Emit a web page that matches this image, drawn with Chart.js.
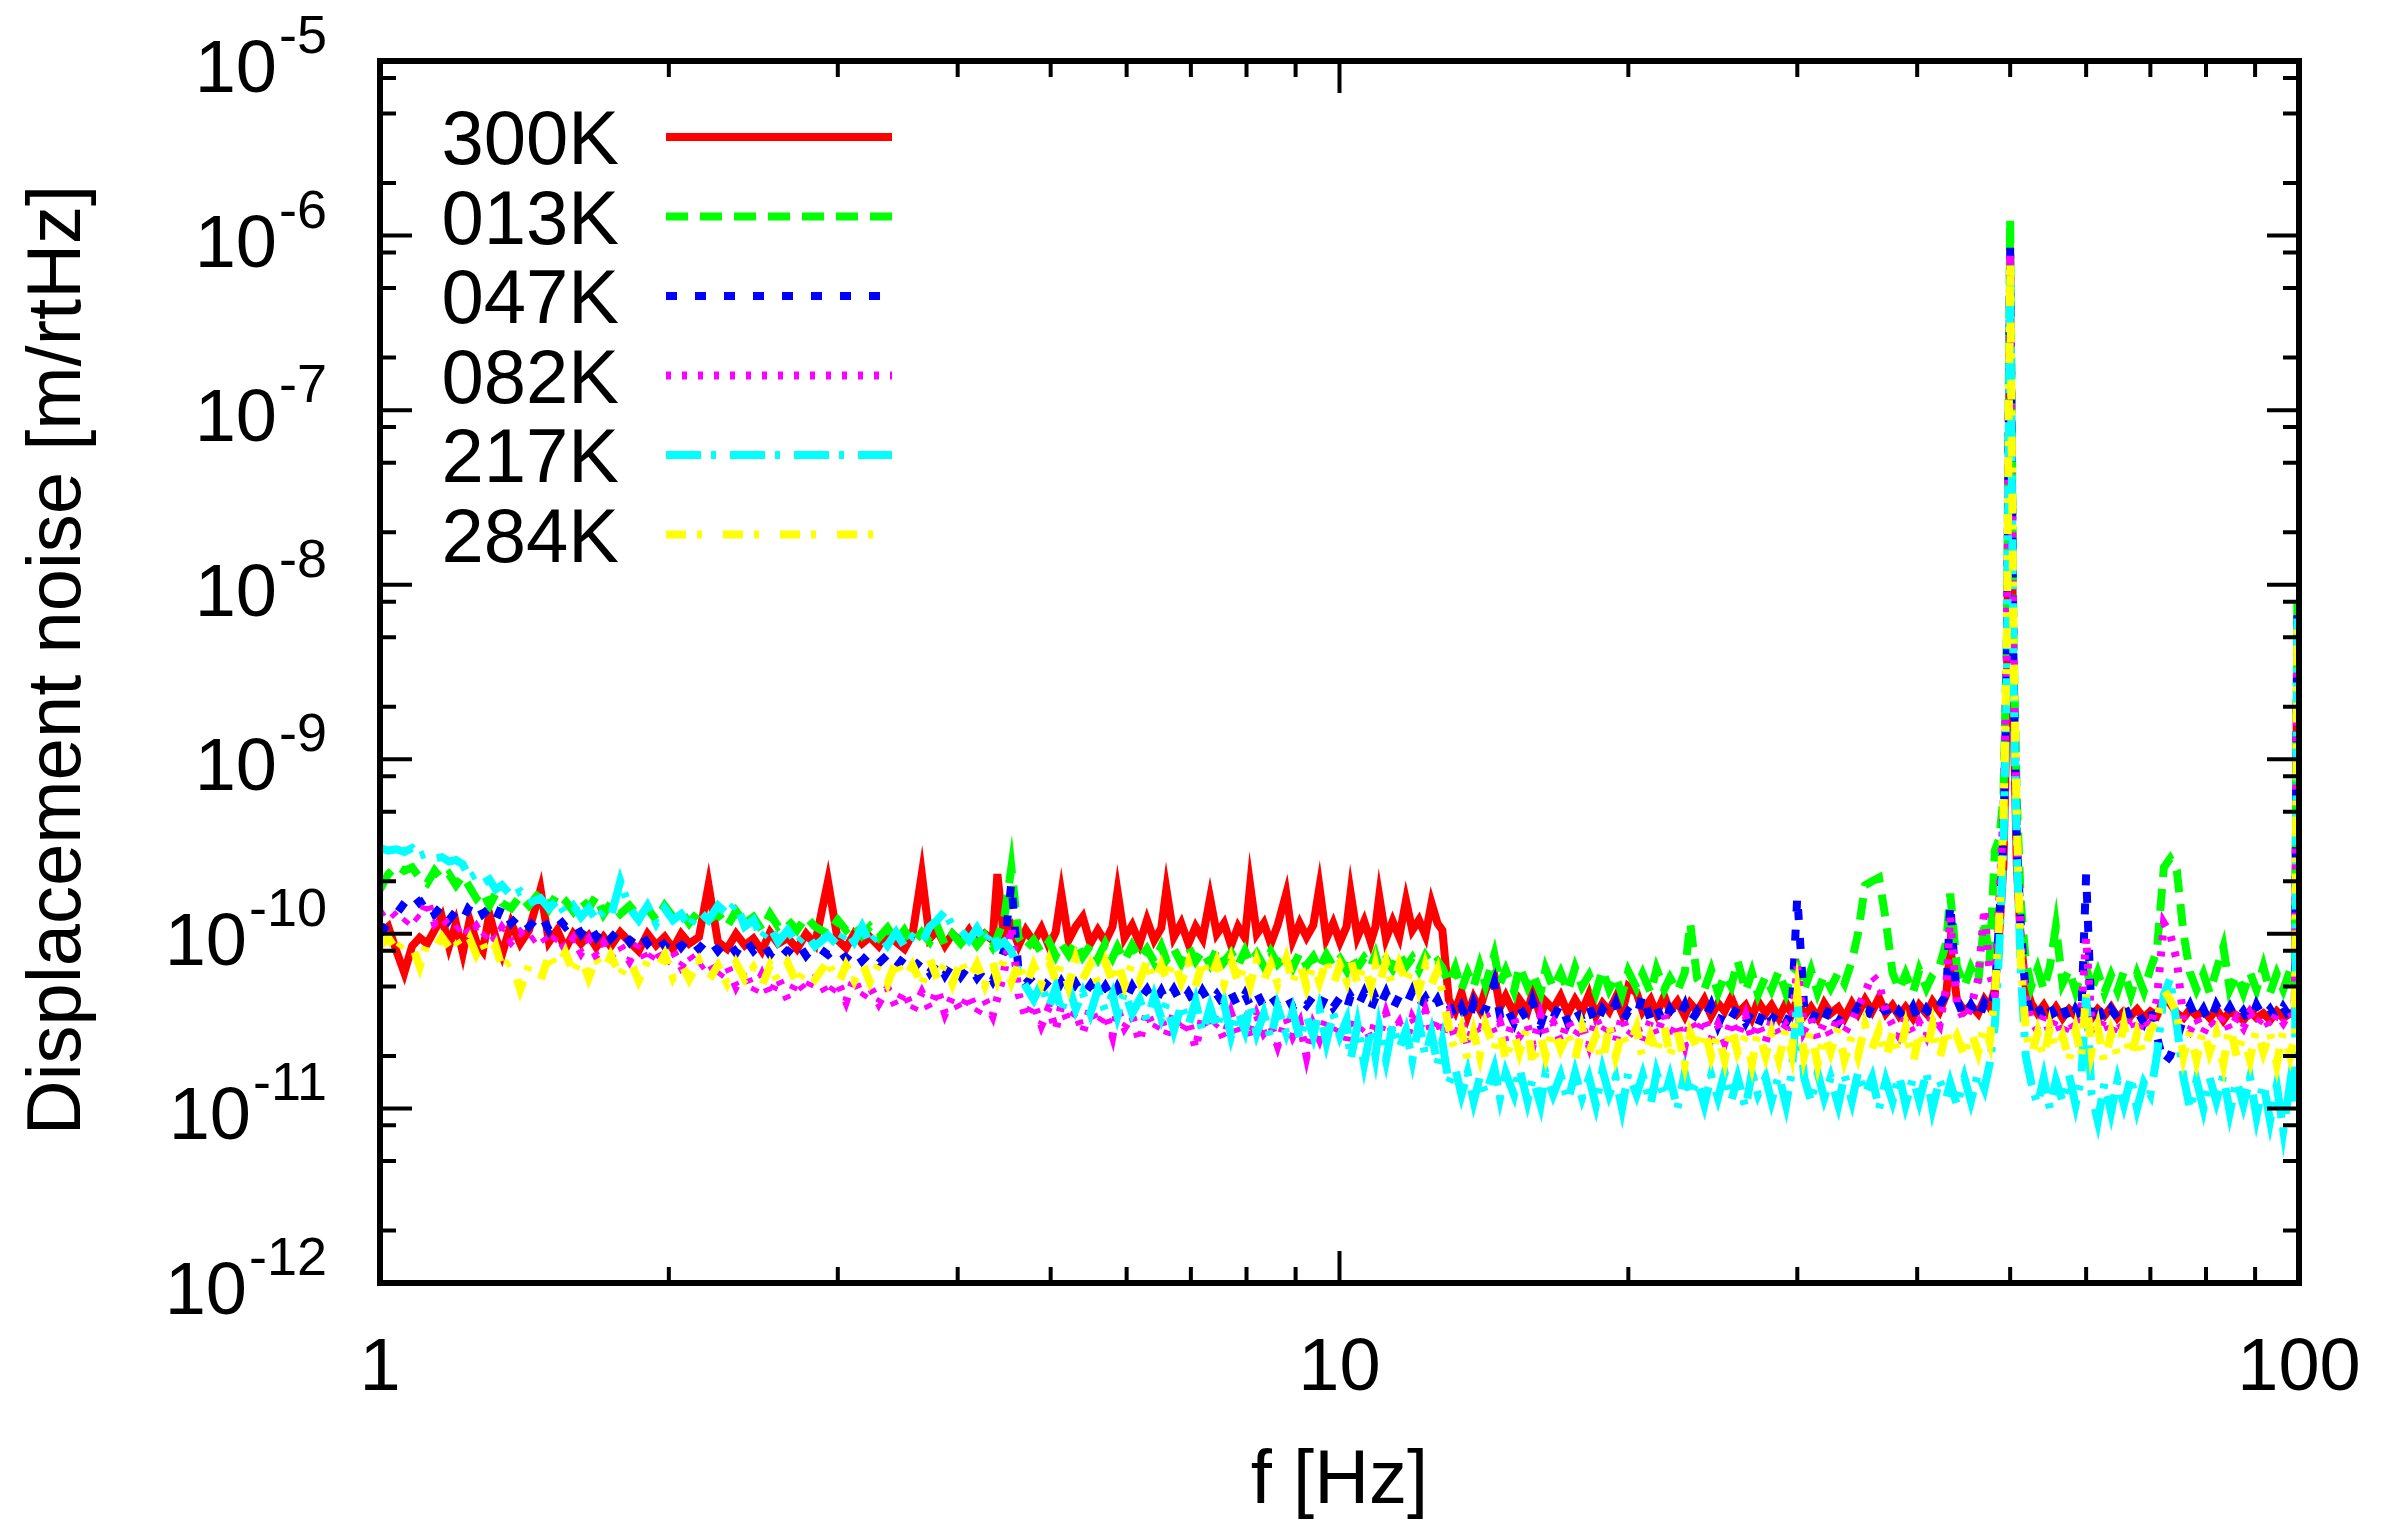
<!DOCTYPE html>
<html>
<head>
<meta charset="utf-8">
<title>Displacement noise</title>
<script src="https://cdn.jsdelivr.net/npm/chart.js@4.4.1/dist/chart.umd.min.js"></script>
<style>
  html, body { margin: 0; padding: 0; background: #fff; }
  canvas { display: block; }
</style>
</head>
<body>
<canvas id="noise" width="2400" height="1523"></canvas>
<script>
// frequency bins [Hz]
var freq = [
  1.00, 1.02, 1.04, 1.06, 1.08, 1.10, 1.12, 1.14, 1.16, 1.18,
  1.20, 1.22, 1.24, 1.26, 1.28, 1.30, 1.32, 1.34, 1.37, 1.40,
  1.43, 1.47, 1.50, 1.53, 1.56, 1.59, 1.62, 1.65, 1.68, 1.71,
  1.74, 1.78, 1.82, 1.86, 1.90, 1.94, 1.98, 2.02, 2.06, 2.10,
  2.15, 2.20, 2.25, 2.30, 2.35, 2.40, 2.45, 2.50, 2.55, 2.60,
  2.66, 2.72, 2.78, 2.84, 2.93, 3.00, 3.06, 3.12, 3.18, 3.24,
  3.31, 3.38, 3.45, 3.52, 3.59, 3.67, 3.74, 3.81, 3.88, 3.95,
  4.03, 4.11, 4.19, 4.27, 4.35, 4.40, 4.47, 4.55, 4.63, 4.71,
  4.80, 4.89, 4.98, 5.06, 5.13, 5.22, 5.31, 5.40, 5.50, 5.60,
  5.70, 5.80, 5.87, 5.97, 6.08, 6.19, 6.30, 6.41, 6.52, 6.60,
  6.72, 6.84, 6.96, 7.08, 7.20, 7.33, 7.45, 7.58, 7.71, 7.84,
  7.97, 8.07, 8.20, 8.34, 8.48, 8.62, 8.80, 8.94, 9.09, 9.24,
  9.39, 9.53, 9.69, 9.85, 10.01, 10.17, 10.27, 10.44, 10.61, 10.78,
  10.90, 11.00, 11.18, 11.36, 11.54, 11.73, 11.91, 12.10, 12.29, 12.47,
  12.65, 12.80, 13.0, 13.2, 13.4, 13.6, 13.8, 14.0, 14.2, 14.5,
  14.7, 14.9, 15.2, 15.4, 15.7, 15.9, 16.2, 16.4, 16.7, 17.0,
  17.3, 17.6, 17.9, 18.2, 18.5, 18.8, 19.1, 19.4, 19.7, 20.0,
  20.4, 20.7, 21.1, 21.4, 21.8, 22.1, 22.5, 22.9, 23.2, 23.6,
  24.0, 24.4, 24.8, 25.2, 25.6, 26.0, 26.5, 26.9, 27.3, 27.8,
  28.2, 28.7, 29.2, 29.6, 30.0, 30.5, 31.0, 31.5, 32.0, 32.5,
  33.1, 33.6, 34.2, 34.7, 35.3, 35.9, 36.5, 37.1, 37.7, 38.3,
  38.9, 39.6, 40.2, 40.9, 41.5, 42.2, 42.9, 43.3, 44.0, 44.8,
  45.5, 46.3, 47.0, 47.6, 48.2, 48.7, 49.2, 49.6, 50.0, 50.4,
  50.8, 51.3, 51.9, 52.6, 53.4, 54.2, 55.0, 55.8, 56.7, 57.6,
  58.5, 59.3, 60.0, 60.8, 61.7, 62.7, 63.7, 64.7, 65.7, 66.8,
  67.8, 68.9, 70.0, 71.1, 72.3, 73.4, 74.6, 75.8, 77.0, 78.2,
  79.5, 80.7, 82.0, 83.4, 84.7, 86.1, 87.5, 88.9, 90.3, 91.8,
  93.3, 94.8, 96.3, 97.9, 99.0, 99.6, 100
];

// displacement noise [m/rtHz], one array per temperature
var n300K = [
  1.0e-10, 1.1e-10, 8.0e-11, 6.0e-11, 8.5e-11, 9.5e-11, 8.8e-11, 1.05e-10, 1.25e-10, 8.5e-11,
  1.15e-10, 7.8e-11, 1.2e-10, 9.0e-11, 8.0e-11, 1.3e-10, 9.5e-11, 7.6e-11, 1.15e-10, 8.8e-11,
  1.05e-10, 1.8e-10, 9.0e-11, 1.05e-10, 8.2e-11, 1.0e-10, 8.8e-11, 9.8e-11, 8.4e-11, 9.6e-11,
  8.5e-11, 1.02e-10, 9.0e-11, 8.0e-11, 1.0e-10, 8.6e-11, 9.6e-11, 8.2e-11, 1.0e-10, 8.8e-11,
  9.6e-11, 1.9e-10, 9.0e-11, 8.2e-11, 1.0e-10, 8.6e-11, 9.4e-11, 8.0e-11, 1.02e-10, 8.8e-11,
  9.5e-11, 8.2e-11, 1.0e-10, 8.7e-11, 2.0e-10, 9.2e-11, 8.3e-11, 1.0e-10, 8.8e-11, 9.6e-11,
  8.5e-11, 1.02e-10, 9.0e-11, 8.2e-11, 1.0e-10, 2.2e-10, 9.4e-11, 1.05e-10, 8.6e-11, 1.0e-10,
  9.0e-11, 1.05e-10, 8.8e-11, 1.0e-10, 9.2e-11, 2.2e-10, 9.5e-11, 1.1e-10, 8.6e-11, 1.05e-10,
  9.0e-11, 1.08e-10, 8.5e-11, 1.02e-10, 1.7e-10, 9.2e-11, 1.1e-10, 1.25e-10, 8.8e-11, 1.05e-10,
  9.0e-11, 1.1e-10, 1.75e-10, 9.5e-11, 1.12e-10, 8.8e-11, 1.2e-10, 9.2e-11, 1.08e-10, 1.8e-10,
  9.6e-11, 1.15e-10, 8.8e-11, 1.1e-10, 9.4e-11, 1.6e-10, 1.0e-10, 1.15e-10, 8.6e-11, 1.1e-10,
  9.5e-11, 1.9e-10, 1.0e-10, 1.15e-10, 8.8e-11, 1.12e-10, 1.7e-10, 9.2e-11, 1.15e-10, 9.6e-11,
  1.12e-10, 1.85e-10, 9.4e-11, 1.15e-10, 9.0e-11, 1.1e-10, 1.72e-10, 9.6e-11, 1.18e-10, 9.0e-11,
  1.1e-10, 1.64e-10, 9.4e-11, 1.18e-10, 9.6e-11, 1.55e-10, 1.05e-10, 1.2e-10, 9.8e-11, 1.5e-10,
  1.15e-10, 1.05e-10, 4.2e-11, 3.6e-11, 4.6e-11, 3.4e-11, 4.3e-11, 3.7e-11, 4.8e-11, 5.8e-11,
  3.8e-11, 4.4e-11, 3.5e-11, 4.2e-11, 3.6e-11, 4.6e-11, 3.4e-11, 4.1e-11, 3.7e-11, 4.4e-11,
  3.5e-11, 4.2e-11, 3.6e-11, 4.5e-11, 3.4e-11, 4.0e-11, 3.6e-11, 4.3e-11, 3.5e-11, 5.0e-11,
  4.6e-11, 3.6e-11, 4.2e-11, 3.5e-11, 4.4e-11, 3.6e-11, 4.1e-11, 3.4e-11, 4.0e-11, 3.6e-11,
  4.2e-11, 3.4e-11, 4.0e-11, 3.6e-11, 4.3e-11, 3.5e-11, 3.9e-11, 3.3e-11, 4.1e-11, 3.5e-11,
  3.9e-11, 3.3e-11, 4.0e-11, 3.5e-11, 4.2e-11, 3.4e-11, 3.8e-11, 3.3e-11, 4.0e-11, 3.5e-11,
  3.8e-11, 3.3e-11, 4.0e-11, 3.5e-11, 4.2e-11, 3.6e-11, 4.3e-11, 3.5e-11, 3.9e-11, 3.4e-11,
  3.8e-11, 3.3e-11, 3.9e-11, 3.5e-11, 4.1e-11, 3.6e-11, 4.5e-11, 8.5e-11, 4.2e-11, 3.6e-11,
  3.9e-11, 3.5e-11, 4.2e-11, 3.8e-11, 4.8e-11, 1.0e-10, 2.5e-10, 2.0e-9, 5.0e-7, 2.0e-9,
  2.5e-10, 9.0e-11, 5.0e-11, 4.0e-11, 3.5e-11, 3.9e-11, 3.4e-11, 3.8e-11, 3.3e-11, 3.7e-11,
  3.4e-11, 3.8e-11, 3.9e-11, 3.3e-11, 3.7e-11, 3.4e-11, 3.8e-11, 3.3e-11, 3.6e-11, 3.4e-11,
  3.7e-11, 3.3e-11, 3.6e-11, 3.4e-11, 4.2e-11, 4.0e-11, 3.5e-11, 3.3e-11, 3.7e-11, 3.4e-11,
  3.6e-11, 3.3e-11, 3.7e-11, 3.2e-11, 3.6e-11, 3.4e-11, 3.2e-11, 3.6e-11, 3.3e-11, 3.5e-11,
  3.2e-11, 3.6e-11, 3.3e-11, 3.5e-11, 3.4e-11, 6.0e-9, 6.0e-9
];
var n013K = [
  1.8e-10, 2.2e-10, 2.45e-10, 2.3e-10, 2.4e-10, 2.1e-10, 1.95e-10, 2.3e-10, 2.05e-10, 2.2e-10,
  1.9e-10, 2.15e-10, 1.85e-10, 1.6e-10, 1.75e-10, 1.45e-10, 1.7e-10, 1.5e-10, 1.4e-10, 1.65e-10,
  1.45e-10, 1.75e-10, 1.4e-10, 1.7e-10, 1.55e-10, 1.35e-10, 1.6e-10, 1.4e-10, 1.65e-10, 1.3e-10,
  1.5e-10, 1.3e-10, 1.45e-10, 1.25e-10, 1.4e-10, 1.2e-10, 1.45e-10, 1.25e-10, 1.35e-10, 1.15e-10,
  1.35e-10, 1.2e-10, 1.3e-10, 1.1e-10, 1.35e-10, 1.15e-10, 1.25e-10, 1.05e-10, 1.3e-10, 1.1e-10,
  1.2e-10, 1.05e-10, 1.25e-10, 1.1e-10, 1.0e-10, 1.2e-10, 1.05e-10, 1.15e-10, 9.8e-11, 1.1e-10,
  9.5e-11, 1.08e-10, 9.0e-11, 1.05e-10, 8.8e-11, 1.02e-10, 9.0e-11, 1.1e-10, 8.6e-11, 1.0e-10,
  8.8e-11, 1.0e-10, 8.6e-11, 9.8e-11, 8.4e-11, 9.6e-11, 1.2e-10, 2.4e-10, 9.5e-11, 8.2e-11,
  9.2e-11, 7.8e-11, 9.0e-11, 7.5e-11, 8.8e-11, 7.6e-11, 9.0e-11, 7.4e-11, 8.6e-11, 7.2e-11,
  8.8e-11, 7.3e-11, 8.4e-11, 7.0e-11, 8.6e-11, 7.2e-11, 8.2e-11, 6.9e-11, 8.5e-11, 7.1e-11,
  8.2e-11, 6.8e-11, 8.4e-11, 7.0e-11, 8.0e-11, 6.7e-11, 8.2e-11, 6.9e-11, 7.8e-11, 6.6e-11,
  8.0e-11, 6.8e-11, 7.7e-11, 6.5e-11, 7.9e-11, 6.7e-11, 7.5e-11, 6.4e-11, 7.8e-11, 6.6e-11,
  7.4e-11, 6.3e-11, 7.6e-11, 6.5e-11, 7.2e-11, 6.2e-11, 7.5e-11, 6.4e-11, 7.3e-11, 6.5e-11,
  7.6e-11, 6.4e-11, 7.2e-11, 6.3e-11, 7.7e-11, 6.5e-11, 7.3e-11, 6.2e-11, 7.5e-11, 6.6e-11,
  7.0e-11, 6.4e-11, 5.2e-11, 6.4e-11, 4.8e-11, 6.0e-11, 5.0e-11, 6.6e-11, 5.1e-11, 7.6e-11,
  5.2e-11, 6.2e-11, 4.7e-11, 6.5e-11, 5.0e-11, 5.9e-11, 4.6e-11, 6.3e-11, 4.9e-11, 6.0e-11,
  4.7e-11, 6.4e-11, 5.0e-11, 5.8e-11, 4.6e-11, 6.2e-11, 4.8e-11, 5.7e-11, 4.5e-11, 6.1e-11,
  4.9e-11, 5.9e-11, 4.6e-11, 6.3e-11, 4.8e-11, 5.6e-11, 4.7e-11, 6.0e-11, 1.15e-10, 5.5e-11,
  4.8e-11, 6.2e-11, 4.6e-11, 5.8e-11, 5.0e-11, 7.0e-11, 4.7e-11, 6.0e-11, 4.5e-11, 5.7e-11,
  4.8e-11, 6.1e-11, 4.6e-11, 5.9e-11, 6.5e-11, 4.8e-11, 6.2e-11, 4.6e-11, 5.8e-11, 4.9e-11,
  6.0e-11, 5.2e-11, 7.0e-11, 1.0e-10, 1.9e-10, 2.0e-10, 2.1e-10, 1.2e-10, 6.0e-11, 4.8e-11,
  5.9e-11, 4.6e-11, 6.2e-11, 4.9e-11, 5.8e-11, 6.5e-11, 9.0e-11, 1.7e-10, 6.5e-11, 5.0e-11,
  6.4e-11, 5.2e-11, 1.2e-10, 7.0e-11, 3.0e-10, 3.5e-10, 6.0e-10, 5.0e-9, 1.25e-6, 5.0e-9,
  6.0e-10, 1.5e-10, 7.0e-11, 5.0e-11, 6.3e-11, 4.8e-11, 6.5e-11, 1.1e-10, 5.2e-11, 6.2e-11,
  4.7e-11, 5.9e-11, 6.5e-11, 4.8e-11, 6.0e-11, 4.6e-11, 5.8e-11, 4.7e-11, 6.1e-11, 4.5e-11,
  5.9e-11, 4.7e-11, 6.3e-11, 8.0e-11, 2.4e-10, 2.7e-10, 2.3e-10, 1.0e-10, 6.0e-11, 4.8e-11,
  5.9e-11, 4.6e-11, 6.2e-11, 8.4e-11, 4.8e-11, 5.8e-11, 4.6e-11, 6.0e-11, 4.8e-11, 6.5e-11,
  4.6e-11, 5.9e-11, 4.8e-11, 6.2e-11, 5.0e-11, 7.5e-9, 7.5e-9
];
var n047K = [
  1.0e-10, 1.15e-10, 1.3e-10, 1.5e-10, 1.7e-10, 1.5e-10, 1.6e-10, 1.3e-10, 1.45e-10, 1.2e-10,
  1.35e-10, 1.2e-10, 1.45e-10, 1.55e-10, 1.3e-10, 1.4e-10, 1.2e-10, 1.45e-10, 1.15e-10, 1.3e-10,
  1.1e-10, 1.3e-10, 1.05e-10, 1.25e-10, 1.1e-10, 1.2e-10, 1.0e-10, 1.15e-10, 9.6e-11, 1.1e-10,
  9.4e-11, 1.08e-10, 9.0e-11, 1.05e-10, 8.8e-11, 1.0e-10, 8.5e-11, 9.8e-11, 8.4e-11, 9.6e-11,
  8.2e-11, 9.5e-11, 8.0e-11, 9.2e-11, 7.8e-11, 9.4e-11, 8.0e-11, 9.0e-11, 7.6e-11, 8.8e-11,
  7.8e-11, 9.0e-11, 7.5e-11, 8.6e-11, 7.6e-11, 8.4e-11, 7.2e-11, 8.2e-11, 7.0e-11, 7.8e-11,
  6.8e-11, 7.6e-11, 6.4e-11, 7.4e-11, 6.2e-11, 7.2e-11, 6.0e-11, 7.0e-11, 5.8e-11, 6.8e-11,
  5.7e-11, 6.6e-11, 5.6e-11, 6.4e-11, 5.4e-11, 6.2e-11, 8.0e-11, 1.95e-10, 6.0e-11, 5.2e-11,
  5.8e-11, 4.8e-11, 5.4e-11, 4.6e-11, 5.3e-11, 4.5e-11, 5.2e-11, 4.4e-11, 5.1e-11, 4.3e-11,
  5.0e-11, 4.2e-11, 4.9e-11, 4.1e-11, 5.0e-11, 4.2e-11, 4.8e-11, 4.0e-11, 4.7e-11, 4.1e-11,
  4.8e-11, 4.0e-11, 4.6e-11, 3.9e-11, 4.7e-11, 4.0e-11, 4.5e-11, 3.9e-11, 4.6e-11, 3.8e-11,
  4.5e-11, 3.9e-11, 4.6e-11, 3.8e-11, 4.4e-11, 3.9e-11, 4.5e-11, 3.8e-11, 4.3e-11, 3.9e-11,
  4.4e-11, 3.7e-11, 4.5e-11, 3.8e-11, 4.3e-11, 3.7e-11, 4.4e-11, 3.8e-11, 4.6e-11, 3.7e-11,
  4.3e-11, 3.8e-11, 4.6e-11, 3.7e-11, 4.4e-11, 3.9e-11, 4.7e-11, 3.8e-11, 4.3e-11, 3.7e-11,
  4.2e-11, 3.6e-11, 4.0e-11, 3.2e-11, 3.8e-11, 3.1e-11, 4.0e-11, 3.3e-11, 3.7e-11, 5.2e-11,
  3.4e-11, 3.9e-11, 3.1e-11, 3.8e-11, 3.2e-11, 4.1e-11, 3.0e-11, 3.7e-11, 3.3e-11, 4.0e-11,
  3.1e-11, 3.8e-11, 3.2e-11, 3.9e-11, 3.0e-11, 3.7e-11, 3.3e-11, 4.0e-11, 3.1e-11, 3.6e-11,
  3.3e-11, 4.5e-11, 3.2e-11, 3.8e-11, 3.0e-11, 3.7e-11, 3.2e-11, 3.9e-11, 3.1e-11, 3.6e-11,
  3.2e-11, 3.9e-11, 3.0e-11, 3.7e-11, 3.3e-11, 3.8e-11, 3.1e-11, 3.6e-11, 3.0e-11, 3.8e-11,
  3.2e-11, 3.7e-11, 3.1e-11, 3.6e-11, 1.65e-10, 3.8e-11, 3.1e-11, 3.7e-11, 3.2e-11, 3.9e-11,
  3.1e-11, 3.6e-11, 3.3e-11, 3.8e-11, 3.2e-11, 3.9e-11, 3.4e-11, 3.7e-11, 3.1e-11, 3.6e-11,
  3.2e-11, 3.8e-11, 3.1e-11, 3.7e-11, 3.3e-11, 3.9e-11, 4.5e-11, 1.5e-10, 4.2e-11, 3.3e-11,
  3.9e-11, 3.2e-11, 4.0e-11, 3.6e-11, 4.6e-11, 1.2e-10, 3.5e-10, 3.5e-9, 8.5e-7, 3.5e-9,
  3.5e-10, 1.1e-10, 4.5e-11, 3.4e-11, 3.9e-11, 3.2e-11, 3.8e-11, 3.3e-11, 3.9e-11, 3.1e-11,
  3.7e-11, 3.3e-11, 2.2e-10, 3.2e-11, 3.8e-11, 3.1e-11, 3.7e-11, 3.3e-11, 3.9e-11, 3.2e-11,
  3.6e-11, 3.1e-11, 3.8e-11, 2.6e-11, 1.8e-11, 2.0e-11, 2.5e-11, 3.3e-11, 3.9e-11, 3.2e-11,
  3.7e-11, 3.1e-11, 3.9e-11, 3.3e-11, 3.8e-11, 3.2e-11, 3.6e-11, 3.1e-11, 3.9e-11, 3.3e-11,
  3.7e-11, 3.2e-11, 3.8e-11, 3.3e-11, 3.6e-11, 7.0e-9, 7.0e-9
];
var n082K = [
  1.3e-10, 1.4e-10, 1.25e-10, 1.15e-10, 1.3e-10, 1.2e-10, 1.55e-10, 1.15e-10, 1.25e-10, 1.1e-10,
  1.05e-10, 1.15e-10, 9.8e-11, 1.1e-10, 9.5e-11, 1.05e-10, 9.2e-11, 1.08e-10, 9.0e-11, 1.02e-10,
  9.0e-11, 1.0e-10, 8.6e-11, 9.8e-11, 8.2e-11, 9.4e-11, 7.8e-11, 9.2e-11, 7.5e-11, 8.8e-11,
  7.4e-11, 8.6e-11, 7.0e-11, 8.8e-11, 6.8e-11, 8.2e-11, 6.6e-11, 8.0e-11, 6.5e-11, 7.6e-11,
  6.4e-11, 7.0e-11, 5.6e-11, 6.6e-11, 5.0e-11, 6.2e-11, 4.6e-11, 5.8e-11, 4.4e-11, 5.6e-11,
  4.2e-11, 5.4e-11, 4.6e-11, 6.0e-11, 4.4e-11, 5.3e-11, 4.1e-11, 5.6e-11, 4.3e-11, 5.0e-11,
  4.0e-11, 4.9e-11, 3.8e-11, 4.7e-11, 3.6e-11, 4.6e-11, 3.7e-11, 4.8e-11, 3.5e-11, 4.4e-11,
  3.6e-11, 4.5e-11, 3.5e-11, 4.2e-11, 3.4e-11, 4.3e-11, 6.0e-11, 1.1e-10, 4.5e-11, 3.3e-11,
  4.0e-11, 3.0e-11, 3.8e-11, 2.8e-11, 3.9e-11, 3.1e-11, 3.6e-11, 2.7e-11, 3.8e-11, 3.0e-11,
  3.5e-11, 2.6e-11, 3.7e-11, 2.9e-11, 3.4e-11, 2.4e-11, 3.6e-11, 2.8e-11, 3.3e-11, 2.6e-11,
  3.5e-11, 2.7e-11, 3.2e-11, 2.2e-11, 3.4e-11, 2.8e-11, 3.1e-11, 2.5e-11, 3.5e-11, 2.7e-11,
  3.2e-11, 2.5e-11, 3.4e-11, 2.7e-11, 3.0e-11, 2.3e-11, 3.3e-11, 2.6e-11, 3.1e-11, 2.0e-11,
  3.0e-11, 2.5e-11, 3.3e-11, 2.6e-11, 3.1e-11, 2.4e-11, 3.4e-11, 2.7e-11, 3.0e-11, 2.5e-11,
  3.2e-11, 2.6e-11, 3.5e-11, 2.7e-11, 3.1e-11, 2.4e-11, 3.3e-11, 2.8e-11, 3.6e-11, 2.7e-11,
  3.3e-11, 2.6e-11, 3.4e-11, 2.5e-11, 3.2e-11, 2.3e-11, 3.0e-11, 2.6e-11, 3.5e-11, 2.7e-11,
  3.1e-11, 2.4e-11, 3.3e-11, 2.6e-11, 3.0e-11, 2.3e-11, 3.4e-11, 2.7e-11, 3.1e-11, 2.4e-11,
  3.2e-11, 2.6e-11, 3.0e-11, 2.3e-11, 3.3e-11, 2.7e-11, 3.1e-11, 2.4e-11, 3.4e-11, 2.6e-11,
  3.0e-11, 2.4e-11, 3.2e-11, 2.6e-11, 3.5e-11, 2.5e-11, 3.1e-11, 2.3e-11, 3.2e-11, 2.7e-11,
  3.3e-11, 2.5e-11, 3.0e-11, 2.4e-11, 3.2e-11, 2.6e-11, 3.4e-11, 2.5e-11, 3.1e-11, 2.4e-11,
  3.2e-11, 2.6e-11, 3.0e-11, 2.7e-11, 6.5e-11, 2.8e-11, 3.3e-11, 2.5e-11, 3.1e-11, 2.6e-11,
  3.4e-11, 2.7e-11, 3.2e-11, 3.8e-11, 4.6e-11, 5.8e-11, 5.2e-11, 3.6e-11, 3.0e-11, 2.6e-11,
  3.3e-11, 2.7e-11, 3.1e-11, 2.6e-11, 3.4e-11, 3.0e-11, 5.0e-11, 1.25e-10, 4.0e-11, 3.2e-11,
  3.8e-11, 5.5e-11, 1.4e-10, 6.0e-11, 4.5e-11, 1.5e-10, 5.0e-10, 4.0e-9, 8.0e-7, 4.0e-9,
  4.0e-10, 9.0e-11, 4.2e-11, 3.2e-11, 2.8e-11, 3.4e-11, 2.7e-11, 3.3e-11, 2.6e-11, 3.2e-11,
  2.8e-11, 3.5e-11, 9.5e-11, 3.0e-11, 2.7e-11, 3.3e-11, 2.6e-11, 3.2e-11, 2.8e-11, 3.4e-11,
  2.7e-11, 3.3e-11, 2.9e-11, 4.2e-11, 1.15e-10, 1.0e-10, 7.0e-11, 3.2e-11, 2.8e-11, 3.3e-11,
  2.7e-11, 3.2e-11, 2.9e-11, 3.4e-11, 2.8e-11, 3.3e-11, 2.9e-11, 3.5e-11, 3.0e-11, 3.4e-11,
  2.9e-11, 3.5e-11, 3.1e-11, 3.6e-11, 3.2e-11, 6.5e-9, 6.5e-9
];
var n217K = [
  3.1e-10, 3.0e-10, 3.05e-10, 2.95e-10, 3.1e-10, 2.8e-10, 2.9e-10, 2.7e-10, 2.75e-10, 2.6e-10,
  2.65e-10, 2.5e-10, 2.1e-10, 2.2e-10, 1.95e-10, 2.05e-10, 1.8e-10, 1.9e-10, 1.65e-10, 1.75e-10,
  1.5e-10, 1.6e-10, 1.4e-10, 1.55e-10, 1.3e-10, 1.45e-10, 1.25e-10, 1.4e-10, 1.2e-10, 1.35e-10,
  1.25e-10, 2.0e-10, 1.4e-10, 1.2e-10, 1.45e-10, 1.15e-10, 1.4e-10, 1.2e-10, 1.3e-10, 1.1e-10,
  1.35e-10, 1.2e-10, 1.45e-10, 1.3e-10, 1.5e-10, 1.1e-10, 1.2e-10, 9.5e-11, 1.1e-10, 9.0e-11,
  1.05e-10, 8.8e-11, 1.0e-10, 8.5e-11, 9.8e-11, 8.6e-11, 1.05e-10, 9.0e-11, 1.1e-10, 8.8e-11,
  1.0e-10, 8.6e-11, 1.02e-10, 8.5e-11, 9.6e-11, 8.8e-11, 1.1e-10, 1.2e-10, 1.35e-10, 1.1e-10,
  1.05e-10, 9.2e-11, 1.08e-10, 9.0e-11, 1.05e-10, 8.5e-11, 9.0e-11, 8.0e-11, 6.0e-11, 5.0e-11,
  4.2e-11, 5.2e-11, 3.8e-11, 4.9e-11, 3.6e-11, 5.0e-11, 3.7e-11, 4.6e-11, 3.5e-11, 4.8e-11,
  3.6e-11, 4.5e-11, 3.4e-11, 4.7e-11, 3.5e-11, 4.2e-11, 3.2e-11, 4.4e-11, 3.3e-11, 4.0e-11,
  2.8e-11, 3.9e-11, 3.0e-11, 4.1e-11, 2.7e-11, 3.8e-11, 2.9e-11, 4.0e-11, 2.6e-11, 3.6e-11,
  2.8e-11, 3.9e-11, 2.7e-11, 3.5e-11, 2.5e-11, 3.8e-11, 2.7e-11, 3.6e-11, 2.5e-11, 3.4e-11,
  2.6e-11, 3.7e-11, 2.4e-11, 3.5e-11, 2.6e-11, 3.2e-11, 1.9e-11, 3.0e-11, 1.8e-11, 2.8e-11,
  2.0e-11, 2.9e-11, 1.9e-11, 3.0e-11, 2.2e-11, 2.8e-11, 1.9e-11, 3.1e-11, 2.0e-11, 2.7e-11,
  1.8e-11, 2.4e-11, 1.4e-11, 1.7e-11, 1.2e-11, 1.6e-11, 1.1e-11, 1.5e-11, 1.2e-11, 1.7e-11,
  1.15e-11, 1.6e-11, 1.2e-11, 1.7e-11, 1.1e-11, 1.5e-11, 1.05e-11, 1.6e-11, 1.2e-11, 1.55e-11,
  1.1e-11, 1.6e-11, 1.15e-11, 1.5e-11, 1.05e-11, 1.65e-11, 1.2e-11, 1.5e-11, 1.0e-11, 1.6e-11,
  1.2e-11, 1.55e-11, 1.05e-11, 1.6e-11, 1.15e-11, 1.5e-11, 1.0e-11, 1.6e-11, 1.2e-11, 1.45e-11,
  1.05e-11, 1.55e-11, 1.15e-11, 1.6e-11, 1.1e-11, 1.5e-11, 1.0e-11, 1.6e-11, 1.2e-11, 1.5e-11,
  1.1e-11, 1.55e-11, 1.05e-11, 1.6e-11, 4.2e-11, 1.5e-11, 1.1e-11, 1.6e-11, 1.15e-11, 1.5e-11,
  1.05e-11, 1.55e-11, 1.1e-11, 1.6e-11, 1.2e-11, 1.5e-11, 1.0e-11, 1.45e-11, 1.1e-11, 1.55e-11,
  1.05e-11, 1.5e-11, 1.1e-11, 1.6e-11, 1.0e-11, 1.45e-11, 1.15e-11, 1.4e-11, 1.05e-11, 1.5e-11,
  1.1e-11, 1.6e-11, 1.3e-11, 1.8e-11, 3.0e-11, 8.0e-11, 3.0e-10, 3.0e-9, 6.0e-7, 3.0e-9,
  3.0e-10, 6.0e-11, 2.0e-11, 1.4e-11, 1.05e-11, 1.5e-11, 1.0e-11, 1.45e-11, 1.1e-11, 1.55e-11,
  1.05e-11, 1.5e-11, 4.5e-11, 1.2e-11, 8.5e-12, 1.4e-11, 9.5e-12, 1.45e-11, 1.05e-11, 1.5e-11,
  1.0e-11, 1.4e-11, 1.2e-11, 2.0e-11, 4.5e-11, 5.5e-11, 3.0e-11, 1.5e-11, 1.0e-11, 1.45e-11,
  1.0e-11, 1.5e-11, 1.1e-11, 1.55e-11, 9.5e-12, 1.45e-11, 1.05e-11, 1.5e-11, 9.0e-12, 1.4e-11,
  8.5e-12, 1.35e-11, 7.5e-12, 1.4e-11, 1.0e-11, 6.5e-9, 6.5e-9
];
var n284K = [
  8.5e-11, 9.5e-11, 8.0e-11, 9.2e-11, 8.6e-11, 6.5e-11, 9.0e-11, 8.2e-11, 9.6e-11, 8.4e-11,
  9.2e-11, 8.0e-11, 9.4e-11, 7.6e-11, 8.8e-11, 7.2e-11, 8.5e-11, 6.4e-11, 7.0e-11, 4.8e-11,
  6.6e-11, 5.4e-11, 7.6e-11, 6.2e-11, 7.8e-11, 6.0e-11, 7.4e-11, 5.6e-11, 7.2e-11, 6.0e-11,
  7.5e-11, 5.8e-11, 7.2e-11, 5.4e-11, 7.0e-11, 6.2e-11, 7.6e-11, 5.6e-11, 6.8e-11, 5.5e-11,
  7.0e-11, 5.4e-11, 6.6e-11, 5.2e-11, 6.8e-11, 5.5e-11, 6.4e-11, 5.0e-11, 6.6e-11, 5.3e-11,
  6.8e-11, 5.2e-11, 6.5e-11, 5.5e-11, 7.0e-11, 5.1e-11, 6.6e-11, 5.4e-11, 6.9e-11, 5.3e-11,
  6.7e-11, 5.2e-11, 7.0e-11, 5.4e-11, 6.6e-11, 5.1e-11, 7.2e-11, 5.5e-11, 6.8e-11, 5.2e-11,
  7.0e-11, 5.4e-11, 6.7e-11, 5.1e-11, 6.9e-11, 5.5e-11, 7.1e-11, 5.3e-11, 6.8e-11, 5.0e-11,
  6.6e-11, 5.2e-11, 7.0e-11, 5.4e-11, 6.8e-11, 5.0e-11, 7.2e-11, 5.5e-11, 6.7e-11, 5.2e-11,
  6.9e-11, 5.3e-11, 7.1e-11, 5.1e-11, 6.8e-11, 5.4e-11, 7.0e-11, 5.2e-11, 6.6e-11, 5.5e-11,
  7.2e-11, 5.3e-11, 6.8e-11, 5.0e-11, 7.0e-11, 5.4e-11, 6.9e-11, 5.2e-11, 7.1e-11, 5.3e-11,
  6.8e-11, 5.1e-11, 7.0e-11, 5.4e-11, 6.7e-11, 5.2e-11, 7.2e-11, 5.3e-11, 6.9e-11, 5.0e-11,
  6.8e-11, 5.3e-11, 7.0e-11, 5.1e-11, 6.6e-11, 5.4e-11, 7.1e-11, 5.2e-11, 6.8e-11, 5.0e-11,
  6.6e-11, 5.2e-11, 6.9e-11, 5.0e-11, 6.7e-11, 5.3e-11, 6.5e-11, 4.8e-11, 6.6e-11, 5.1e-11,
  6.2e-11, 4.6e-11, 2.9e-11, 2.1e-11, 2.8e-11, 1.9e-11, 2.7e-11, 2.0e-11, 3.0e-11, 2.2e-11,
  2.8e-11, 1.9e-11, 2.7e-11, 2.1e-11, 3.0e-11, 1.8e-11, 2.6e-11, 2.0e-11, 2.9e-11, 2.2e-11,
  2.7e-11, 1.9e-11, 2.9e-11, 2.1e-11, 2.6e-11, 1.8e-11, 3.0e-11, 2.0e-11, 2.7e-11, 2.2e-11,
  2.9e-11, 1.9e-11, 2.6e-11, 2.1e-11, 3.0e-11, 2.0e-11, 2.8e-11, 1.8e-11, 2.7e-11, 2.2e-11,
  2.9e-11, 2.0e-11, 2.7e-11, 1.9e-11, 3.0e-11, 2.1e-11, 2.6e-11, 1.8e-11, 2.8e-11, 2.0e-11,
  2.7e-11, 1.9e-11, 2.9e-11, 2.1e-11, 4.5e-11, 2.0e-11, 2.8e-11, 1.8e-11, 2.7e-11, 2.1e-11,
  2.9e-11, 1.9e-11, 2.6e-11, 2.0e-11, 3.0e-11, 2.2e-11, 2.8e-11, 1.9e-11, 2.7e-11, 2.0e-11,
  2.9e-11, 1.8e-11, 2.7e-11, 2.1e-11, 3.0e-11, 1.9e-11, 2.8e-11, 2.2e-11, 2.6e-11, 2.0e-11,
  2.8e-11, 2.1e-11, 3.0e-11, 2.4e-11, 4.5e-11, 1.2e-10, 4.5e-10, 4.5e-9, 7.5e-7, 4.5e-9,
  4.5e-10, 7.0e-11, 2.8e-11, 2.0e-11, 2.7e-11, 1.9e-11, 2.9e-11, 2.1e-11, 2.6e-11, 1.9e-11,
  2.8e-11, 2.0e-11, 4.5e-11, 2.1e-11, 2.9e-11, 1.8e-11, 2.7e-11, 2.0e-11, 3.0e-11, 1.9e-11,
  2.7e-11, 2.0e-11, 2.8e-11, 3.2e-11, 4.8e-11, 4.2e-11, 3.5e-11, 2.0e-11, 2.8e-11, 1.9e-11,
  2.9e-11, 2.1e-11, 2.7e-11, 1.8e-11, 3.0e-11, 2.0e-11, 2.6e-11, 1.9e-11, 2.9e-11, 2.1e-11,
  2.7e-11, 1.8e-11, 2.8e-11, 2.0e-11, 2.6e-11, 6.0e-9, 6.0e-9
];

var seriesNames = ['300K', '013K', '047K', '082K', '217K', '284K'];
var seriesValues = [n300K, n013K, n047K, n082K, n217K, n284K];
var seriesColors = ['#ff0000', '#00ff00', '#0000ff', '#ff00ff', '#00ffff', '#ffff00'];
var seriesDash = [[], [22, 12], [11, 18], [5, 11], [35, 10, 5, 14], [20, 11, 5, 21]];

// axes
var xTickValues = [1, 10, 100];
var xTickLabels = ['1', '10', '100'];
var xMinor = [2, 3, 4, 5, 6, 7, 8, 9];
var yTickExp = [-5, -6, -7, -8, -9, -10, -11, -12];
var yMinor = [2, 5, 8];
var xTitle = 'f [Hz]';
var yTitle = 'Displacement noise [m/rtHz]';

var FONT = '"Liberation Sans", Arial, Helvetica, sans-serif';

function seg(ctx, x1, y1, x2, y2) {
    ctx.moveTo(x1, y1);
    ctx.lineTo(x2, y2);
}

// gnuplot style frame: inward ticks on all four sides, drawn in front of data
var frame = {
    id: 'frame',
    afterDatasetsDraw: function(chart) {
        var ctx = chart.ctx, a = chart.chartArea;
        var xs = chart.scales.x, ys = chart.scales.y;
        ctx.save();
        ctx.strokeStyle = '#000';
        ctx.lineWidth = 4;
        ctx.beginPath();
        xTickValues.forEach(function(v, i) {
            var px = xs.getPixelForValue(v);
            seg(ctx, px, a.bottom, px, a.bottom - 32);
            seg(ctx, px, a.top, px, a.top + 32);
            if (i < xTickValues.length - 1) {
                xMinor.forEach(function(m) {
                    var pm = xs.getPixelForValue(v * m);
                    seg(ctx, pm, a.bottom, pm, a.bottom - 16);
                    seg(ctx, pm, a.top, pm, a.top + 16);
                });
            }
        });
        yTickExp.forEach(function(e) {
            var d = Math.pow(10, e);
            var py = ys.getPixelForValue(d);
            seg(ctx, a.left, py, a.left + 32, py);
            seg(ctx, a.right, py, a.right - 32, py);
            if (e < yTickExp[0]) {
                yMinor.forEach(function(m) {
                    var pm = ys.getPixelForValue(d * m);
                    seg(ctx, a.left, pm, a.left + 16, pm);
                    seg(ctx, a.right, pm, a.right - 16, pm);
                });
            }
        });
        ctx.stroke();
        ctx.lineWidth = 6;
        ctx.strokeRect(a.left, a.top, a.right - a.left, a.bottom - a.top);
        ctx.restore();
    },
    afterDraw: function(chart) {
        var ctx = chart.ctx, a = chart.chartArea;
        var xs = chart.scales.x, ys = chart.scales.y;
        ctx.save();
        ctx.fillStyle = '#000';
        ctx.textBaseline = 'alphabetic';

        // y tick labels 10^e
        ctx.textAlign = 'right';
        yTickExp.forEach(function(e) {
            var py = ys.getPixelForValue(Math.pow(10, e));
            var ex = String(e);
            ctx.font = '54px ' + FONT;
            ctx.fillText(ex, a.left - 53, py - 8);
            var w = ctx.measureText(ex).width;
            ctx.font = '74px ' + FONT;
            ctx.fillText('10', a.left - 53 - w - 2, py + 31);
        });

        // x tick labels
        ctx.textAlign = 'center';
        ctx.font = '74px ' + FONT;
        xTickValues.forEach(function(v, i) {
            ctx.fillText(xTickLabels[i], xs.getPixelForValue(v), a.bottom + 107);
        });

        // axis titles
        ctx.font = '76px ' + FONT;
        ctx.fillText(xTitle, (a.left + a.right) / 2, a.bottom + 220);
        ctx.save();
        ctx.translate(80, (a.top + a.bottom) / 2 - 12);
        ctx.rotate(-Math.PI / 2);
        ctx.fillText(yTitle, 0, 0);
        ctx.restore();

        // key, top left inside the frame
        chart.data.datasets.forEach(function(ds, i) {
            var cy = a.top + 76 + i * 79.5;
            ctx.font = '76px ' + FONT;
            ctx.textAlign = 'right';
            ctx.fillStyle = '#000';
            ctx.fillText(ds.label, a.left + 239, cy + 27);
            ctx.strokeStyle = ds.borderColor;
            ctx.lineWidth = ds.borderWidth;
            ctx.setLineDash(ds.borderDash);
            ctx.beginPath();
            seg(ctx, a.left + 286, cy, a.left + 512, cy);
            ctx.stroke();
            ctx.setLineDash([]);
        });
        ctx.restore();
    }
};

window.onload = function() {
    var datasets = seriesNames.map(function(name, i) {
        return {
            label: name,
            data: freq.map(function(f, k) { return {x: f, y: seriesValues[i][k]}; }),
            borderColor: seriesColors[i],
            borderWidth: 8,
            borderDash: seriesDash[i],
            pointRadius: 0,
            fill: false,
            tension: 0,
            order: seriesNames.length - 1 - i
        };
    });

    new Chart(document.getElementById('noise'), {
        type: 'line',
        data: { datasets: datasets },
        options: {
            responsive: false,
            animation: false,
            devicePixelRatio: 1,
            layout: { padding: { left: 380, right: 101, top: 61, bottom: 240 } },
            plugins: { legend: { display: false }, tooltip: { enabled: false } },
            scales: {
                x: { type: 'logarithmic', min: 1, max: 100, display: false },
                y: { type: 'logarithmic', min: 1e-12, max: 1e-5, display: false }
            }
        },
        plugins: [frame]
    });
};
</script>
</body>
</html>
